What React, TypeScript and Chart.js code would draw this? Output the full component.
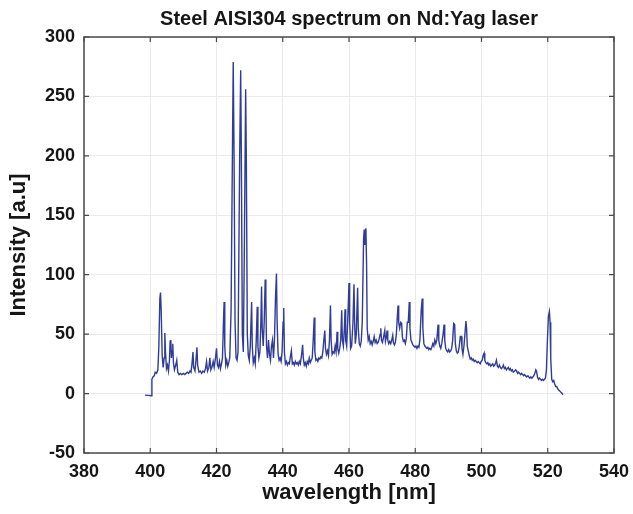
import React, { useEffect, useRef } from "react";
import { Chart, registerables } from "chart.js";

Chart.register(...registerables);

const chartTitle = "Steel AISI304 spectrum on Nd:Yag laser";
const xAxisTitle = "wavelength [nm]";
const yAxisTitle = "Intensity [a.u]";

const xTicks = [380, 400, 420, 440, 460, 480, 500, 520, 540];
const yTicks = [-50, 0, 50, 100, 150, 200, 250, 300];

// wavelength [nm]
const wavelength = [
  398.4, 399.5, 400.3, 400.5, 400.8, 401.2, 401.5, 401.9, 402.3, 402.6,
  402.9, 403.1, 403.3, 403.6, 403.9, 404.2, 404.4, 404.6, 404.9, 405.2,
  405.5, 405.8, 406.0, 406.2, 406.4, 406.6, 406.8, 407.0, 407.3, 407.7,
  408.0, 408.3, 408.7, 409.1, 409.5, 410.0, 410.4, 410.8, 411.2, 411.6,
  412.0, 412.3, 412.6, 412.9, 413.1, 413.5, 413.8, 414.1, 414.3, 414.7,
  415.1, 415.5, 415.9, 416.3, 416.7, 417.0, 417.3, 417.7, 418.0, 418.3,
  418.7, 419.0, 419.3, 419.7, 420.0, 420.3, 420.6, 420.9, 421.2, 421.5,
  421.8, 422.1, 422.3, 422.5, 422.8, 423.1, 423.4, 423.7, 424.0, 424.4,
  424.8, 425.05, 425.3, 425.6, 425.9, 426.2, 426.5, 427.0, 427.3, 427.5,
  427.8, 428.1, 428.4, 428.8, 429.0, 429.3, 429.6, 429.9, 430.2, 430.6,
  430.8, 431.1, 431.4, 431.7, 432.0, 432.3, 432.5, 432.8, 433.1, 433.4,
  433.6, 433.8, 434.1, 434.4, 434.7, 434.9, 435.1, 435.4, 435.7, 436.0,
  436.3, 436.6, 436.9, 437.2, 437.5, 437.8, 438.1, 438.3, 438.6, 438.9,
  439.2, 439.5, 439.8, 440.1, 440.3, 440.5, 440.8, 441.1, 441.4, 441.7,
  442.0, 442.3, 442.6, 442.9, 443.2, 443.5, 443.8, 444.1, 444.4, 444.7,
  445.0, 445.3, 445.7, 446.0, 446.2, 446.5, 446.8, 447.1, 447.4, 447.7,
  448.0, 448.3, 448.6, 448.9, 449.2, 449.5, 449.7, 450.0, 450.3, 450.6,
  450.9, 451.2, 451.5, 451.8, 452.1, 452.4, 452.7, 452.9, 453.2, 453.5,
  453.8, 454.1, 454.4, 454.6, 454.9, 455.2, 455.5, 455.8, 456.1, 456.4,
  456.6, 456.9, 457.2, 457.5, 457.8, 458.0, 458.3, 458.6, 458.8, 459.0,
  459.3, 459.6, 460.0, 460.2, 460.5, 460.8, 461.2, 461.5, 461.7, 461.9,
  462.2, 462.6, 462.8, 463.1, 463.4, 463.7, 464.0, 464.4, 464.6, 464.8,
  465.1, 465.3, 465.5, 465.8, 466.1, 466.4, 466.7, 467.0, 467.3, 467.6,
  467.9, 468.2, 468.5, 468.8, 469.1, 469.4, 469.6, 469.8, 470.1, 470.4,
  470.8, 471.0, 471.3, 471.5, 471.7, 472.0, 472.3, 472.6, 472.9, 473.2,
  473.4, 473.7, 474.0, 474.3, 474.6, 474.8, 475.0, 475.3, 475.6, 475.9,
  476.1, 476.4, 476.7, 477.0, 477.3, 477.6, 477.9, 478.2, 478.4, 478.7,
  479.0, 479.3, 479.6, 479.9, 480.2, 480.5, 480.8, 481.1, 481.4, 481.8,
  482.1, 482.3, 482.6, 482.9, 483.2, 483.5, 483.8, 484.1, 484.4, 484.7,
  485.0, 485.3, 485.6, 485.9, 486.2, 486.5, 486.9, 487.1, 487.4, 487.7,
  488.0, 488.4, 488.7, 488.9, 489.2, 489.5, 489.8, 490.1, 490.4, 490.7,
  491.0, 491.3, 491.6, 491.9, 492.1, 492.4, 492.7, 493.0, 493.3, 493.6,
  493.9, 494.1, 494.4, 494.7, 495.0, 495.3, 495.5, 495.7, 496.0, 496.3,
  496.6, 496.9, 497.2, 497.5, 497.8, 498.1, 498.4, 498.7, 499.0, 499.3,
  499.6, 499.9, 500.2, 500.5, 500.8, 501.0, 501.3, 501.6, 501.9, 502.2,
  502.5, 502.8, 503.1, 503.4, 503.7, 504.0, 504.3, 504.5, 504.8, 505.1,
  505.4, 505.7, 506.0, 506.3, 506.6, 506.9, 507.2, 507.5, 507.8, 508.1,
  508.4, 508.7, 509.0, 509.3, 509.6, 510.0, 510.3, 510.6, 510.9, 511.2,
  511.5, 511.8, 512.1, 512.4, 512.7, 513.0, 513.3, 513.6, 514.0, 514.3,
  514.6, 514.9, 515.2, 515.5, 515.8, 516.1, 516.4, 516.6, 516.9, 517.2,
  517.5, 517.8, 518.1, 518.4, 518.7, 519.0, 519.3, 519.6, 519.9, 520.2,
  520.5, 520.7, 520.9, 521.2, 521.5, 521.8, 522.1, 522.4, 522.7, 523.0,
  523.3, 523.7, 524.0, 524.3, 524.6,
];

// intensity [a.u]
const intensity = [
  -1.3, -1.5, -1.8, 12, 14, 15, 18, 17, 20, 40,
  80, 85, 70, 32, 22, 30, 51, 35, 21, 24,
  19, 28, 44, 45, 30, 36, 42, 26, 20, 24,
  28, 18, 16, 17, 16, 17, 16, 17, 18, 17,
  19, 18, 25, 35, 22, 19, 28, 39, 24, 18,
  19, 17, 19, 18, 21, 27, 19, 22, 30, 20,
  23, 27, 22, 30, 38, 24, 22, 27, 21, 25,
  30, 60, 77, 40, 24, 28, 23, 26, 30, 70,
  200, 279, 200, 60, 30, 28, 35, 200, 272, 200,
  50, 35, 120, 256, 200, 50, 32, 28, 40, 77,
  40, 26, 30, 25, 45, 73, 40, 30, 35, 60,
  90, 55, 40, 60, 96, 80, 40, 30, 45, 33,
  28, 40, 45, 30, 45, 80, 101, 60, 33, 28,
  30, 27, 35, 60, 72, 35, 25, 27, 24, 26,
  25, 31, 36, 25, 26, 24, 27, 25, 26, 24,
  27, 25, 33, 41, 30, 24, 26, 23, 27, 25,
  30, 26, 28, 30, 45, 64, 35, 28, 29, 27,
  30, 29, 31, 30, 35, 45, 53, 38, 33, 36,
  32, 45, 74, 45, 33, 35, 34, 40, 35, 52,
  38, 34, 38, 45, 70, 45, 40, 55, 71, 45,
  40, 60, 93, 60, 38, 40, 60, 92, 60, 42,
  50, 89, 55, 42, 40, 44, 60, 130, 138, 125,
  139, 110, 55, 45, 48, 42, 44, 41, 44, 48,
  43, 45, 42, 43, 46, 50, 55, 45, 43, 47,
  53, 44, 48, 53, 45, 42, 44, 42, 45, 49,
  43, 41, 43, 50, 65, 74, 60, 55, 60, 59,
  48, 44, 45, 42, 46, 60, 60, 77, 55, 45,
  43, 41, 40, 39, 40, 38, 40, 39, 45, 70,
  80, 55, 42, 40, 39, 38, 39, 37, 38, 37,
  39, 42, 40, 45, 42, 45, 58, 45, 40, 38,
  42, 50, 58, 45, 38, 36, 35, 37, 35, 36,
  38, 45, 59, 58, 42, 36, 34, 35, 40, 48,
  48, 38, 33, 40, 50, 61, 55, 40, 36, 32,
  29, 30, 28, 29, 27, 28, 27, 26, 27, 26,
  25, 27, 28, 32, 34, 28, 26, 25, 26, 24,
  25, 23, 24, 25, 23, 24, 26, 28, 23, 22,
  24, 22, 21, 22, 24, 21, 22, 20, 21, 22,
  20, 21, 19, 20, 18, 19, 20, 19, 17, 18,
  17, 16, 17, 16, 15, 16, 15, 14, 15, 14,
  13, 14, 13, 14, 15, 17, 20, 19, 14, 12,
  13, 12, 11, 12, 11, 12, 13, 20, 45, 65,
  69, 60, 30, 12, 10, 11, 8, 6, 6, 4,
  3, 2, 1, 0, -1,
];

const FONT = "'Liberation Sans', Arial, Helvetica, sans-serif";
const TEXT_COLOR = "#161616";

const framePlugin = {
  id: "frameAndTitle",
  afterDraw(chart: any) {
    const { ctx, chartArea: a, scales } = chart;
    ctx.save();
    ctx.strokeStyle = "#4a4a4a";
    ctx.lineWidth = 1.5;
    ctx.strokeRect(a.left, a.top, a.right - a.left, a.bottom - a.top);
    ctx.lineWidth = 1.2;
    const len = 5;
    ctx.beginPath();
    xTicks.forEach((v) => {
      const px = scales.x.getPixelForValue(v);
      ctx.moveTo(px, a.bottom);
      ctx.lineTo(px, a.bottom - len);
      ctx.moveTo(px, a.top);
      ctx.lineTo(px, a.top + len);
    });
    yTicks.forEach((v) => {
      const py = scales.y.getPixelForValue(v);
      ctx.moveTo(a.left, py);
      ctx.lineTo(a.left + len, py);
      ctx.moveTo(a.right, py);
      ctx.lineTo(a.right - len, py);
    });
    ctx.stroke();
    ctx.fillStyle = TEXT_COLOR;
    ctx.font = `bold 20px ${FONT}`;
    ctx.textAlign = "center";
    ctx.textBaseline = "middle";
    ctx.fillText(chartTitle, (a.left + a.right) / 2, 19);
    ctx.restore();
  },
};

export default function App() {
  const canvasRef = useRef<HTMLCanvasElement | null>(null);

  useEffect(() => {
    const canvas = canvasRef.current;
    if (!canvas) return;
    const points = wavelength.map((x, i) => ({ x, y: intensity[i] }));
    const tickFont = { size: 18, weight: "bold" as const, family: FONT };
    const chart = new Chart(canvas, {
      type: "line",
      data: {
        datasets: [
          {
            data: points,
            borderColor: "#2f3c98",
            borderWidth: 1.4,
            pointRadius: 0,
            tension: 0,
            fill: false,
          },
        ],
      },
      options: {
        responsive: false,
        animation: false,
        devicePixelRatio: 1,
        layout: { padding: { top: 37, right: 19, left: 0, bottom: 0 } },
        plugins: {
          legend: { display: false },
          tooltip: { enabled: false },
          title: { display: false },
        },
        scales: {
          x: {
            type: "linear",
            min: 380,
            max: 540,
            afterFit: (s: any) => {
              s.height = 61;
              s.paddingLeft = 0;
              s.paddingRight = 0;
            },
            afterBuildTicks: (s: any) => {
              s.ticks = xTicks.map((v) => ({ value: v }));
            },
            grid: { color: "#ebebeb", lineWidth: 1, drawTicks: false },
            border: { display: false },
            ticks: {
              padding: 8,
              color: TEXT_COLOR,
              font: tickFont,
              autoSkip: false,
              maxRotation: 0,
            },
            title: {
              display: true,
              text: xAxisTitle,
              color: TEXT_COLOR,
              font: { size: 22, weight: "bold", family: FONT, lineHeight: 1 },
              padding: { top: 0, bottom: 10 },
            },
          },
          y: {
            type: "linear",
            min: -50,
            max: 300,
            afterFit: (s: any) => {
              s.width = 84;
              s.paddingTop = 0;
              s.paddingBottom = 0;
            },
            afterBuildTicks: (s: any) => {
              s.ticks = yTicks.map((v) => ({ value: v }));
            },
            grid: { color: "#ebebeb", lineWidth: 1, drawTicks: false },
            border: { display: false },
            ticks: {
              padding: 9,
              color: TEXT_COLOR,
              font: tickFont,
            },
            title: {
              display: true,
              text: yAxisTitle,
              color: TEXT_COLOR,
              font: { size: 22, weight: "bold", family: FONT, lineHeight: 1 },
              padding: { top: 8, bottom: 0 },
            },
          },
        },
      },
      plugins: [framePlugin],
    });
    return () => chart.destroy();
  }, []);

  return (
    <div
      style={{
        position: "fixed",
        left: 0,
        top: 0,
        width: 633,
        height: 514,
        background: "#ffffff",
      }}
    >
      <canvas ref={canvasRef} width={633} height={514} />
    </div>
  );
}
